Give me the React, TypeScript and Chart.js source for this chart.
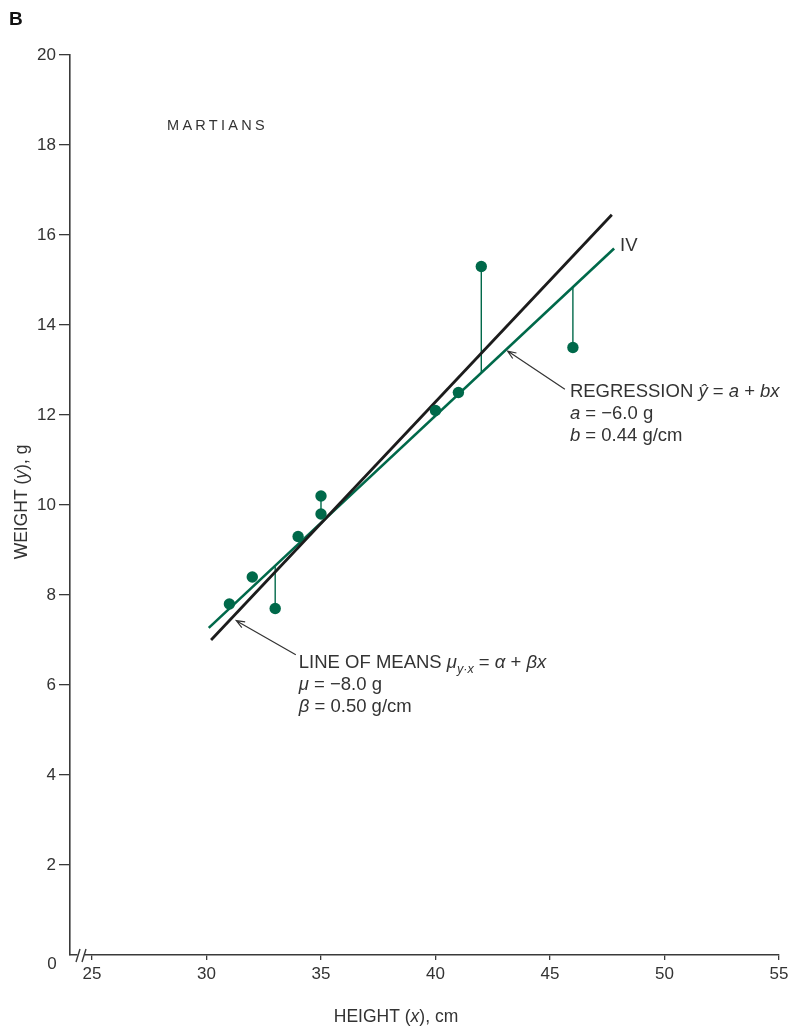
import React, { useEffect, useRef } from "react";
import { Chart, registerables } from "chart.js";

Chart.register(...registerables);

// ---- data ----
const heights = [31, 32, 33, 34, 35, 35, 40, 41, 42, 46];
const weights = [7.8, 8.4, 7.7, 9.3, 10.2, 9.8, 12.1, 12.5, 15.3, 13.5];

// line of means (black)
const meansLineX = [30.2, 47.7];
const meansLineY = [7.0, 16.45];

// regression line (green)
const regressionLineX = [30.1, 47.8];
const regressionLineY = [7.27, 15.7];

// residual segments
const residualX = [33, 35, 42, 46];
const residualFrom = [7.7, 10.2, 15.3, 13.5];
const residualTo = [8.62, 9.8, 12.95, 14.85];

const xTickValues = [25, 30, 35, 40, 45, 50, 55];
const yTickValues = [2, 4, 6, 8, 10, 12, 14, 16, 18, 20];

const GREEN = "#00694a";
const BLACK = "#1c1c1c";
const TEXT = "#333333";
const AXIS = "#3a3a3a";
const FONT = '"Liberation Sans", Arial, sans-serif';

type Seg = { t: string; i?: boolean; sub?: boolean };

function richWidth(ctx: CanvasRenderingContext2D, segs: Seg[], size: number) {
  let w = 0;
  for (const s of segs) {
    const fs = s.sub ? size * 0.68 : size;
    ctx.font = `${s.i ? "italic " : ""}${fs}px ${FONT}`;
    w += ctx.measureText(s.t).width;
  }
  return w;
}

function drawRich(
  ctx: CanvasRenderingContext2D,
  segs: Seg[],
  x: number,
  y: number,
  size: number
) {
  let cx = x;
  for (const s of segs) {
    const fs = s.sub ? size * 0.68 : size;
    ctx.font = `${s.i ? "italic " : ""}${fs}px ${FONT}`;
    ctx.fillText(s.t, cx, s.sub ? y + size * 0.28 : y);
    cx += ctx.measureText(s.t).width;
  }
  return cx;
}

function drawArrow(
  ctx: CanvasRenderingContext2D,
  x1: number,
  y1: number,
  x2: number,
  y2: number
) {
  ctx.save();
  ctx.strokeStyle = TEXT;
  ctx.lineWidth = 1.2;
  ctx.beginPath();
  ctx.moveTo(x1, y1);
  ctx.lineTo(x2, y2);
  const ang = Math.atan2(y1 - y2, x1 - x2);
  const len = 9;
  const spread = 0.38;
  ctx.moveTo(x2 + len * Math.cos(ang + spread), y2 + len * Math.sin(ang + spread));
  ctx.lineTo(x2, y2);
  ctx.lineTo(x2 + len * Math.cos(ang - spread), y2 + len * Math.sin(ang - spread));
  ctx.stroke();
  ctx.restore();
}

const decorPlugin = {
  id: "decor",
  afterDraw(chart: any) {
    const ctx: CanvasRenderingContext2D = chart.ctx;
    const xs = chart.scales.x;
    const ys = chart.scales.y;
    const ca = chart.chartArea;
    ctx.save();
    ctx.fillStyle = TEXT;
    ctx.textBaseline = "alphabetic";
    ctx.textAlign = "left";

    // panel letter
    ctx.fillStyle = "#111";
    ctx.font = `bold 19px ${FONT}`;
    ctx.fillText("B", 9, 25);
    ctx.fillStyle = TEXT;

    // MARTIANS
    ctx.font = `14.5px ${FONT}`;
    (ctx as any).letterSpacing = "3.3px";
    ctx.fillText("MARTIANS", ca.left + 97, ca.top + 75);
    (ctx as any).letterSpacing = "0px";

    // zero label
    ctx.font = `17px ${FONT}`;
    ctx.textAlign = "center";
    ctx.textBaseline = "middle";
    ctx.fillText("0", ca.left - 18, ca.bottom + 9);
    ctx.textAlign = "left";
    ctx.textBaseline = "alphabetic";

    // axis break
    ctx.fillStyle = "#ffffff";
    ctx.fillRect(ca.left + 7.5, ca.bottom - 2, 7, 4);
    ctx.strokeStyle = AXIS;
    ctx.lineWidth = 1.4;
    ctx.beginPath();
    ctx.moveTo(ca.left + 6, ca.bottom + 7);
    ctx.lineTo(ca.left + 10, ca.bottom - 6);
    ctx.moveTo(ca.left + 12, ca.bottom + 7);
    ctx.lineTo(ca.left + 16, ca.bottom - 6);
    ctx.stroke();
    ctx.fillStyle = TEXT;

    // axis titles
    const tsize = 17.5;
    const xTitle: Seg[] = [{ t: "HEIGHT (" }, { t: "x", i: true }, { t: "), cm" }];
    const xw = richWidth(ctx, xTitle, tsize);
    drawRich(ctx, xTitle, 396 - xw / 2, ca.bottom + 67, tsize);

    const yTitle: Seg[] = [{ t: "WEIGHT (" }, { t: "y", i: true }, { t: "), g" }];
    const yw = richWidth(ctx, yTitle, tsize);
    ctx.save();
    ctx.translate(27, 502);
    ctx.rotate(-Math.PI / 2);
    drawRich(ctx, yTitle, -yw / 2, 0, tsize);
    ctx.restore();

    // annotations
    const asize = 18.5;
    // line of means
    const m1x = xs.getPixelForValue(33.9);
    const m1y = ys.getPixelForValue(6.67);
    const m2x = xs.getPixelForValue(31.3);
    const m2y = ys.getPixelForValue(7.43);
    drawArrow(ctx, m1x, m1y, m2x, m2y);
    const lx = m1x + 3;
    const ly = m1y + 13;
    drawRich(
      ctx,
      [
        { t: "LINE OF MEANS " },
        { t: "\u03bc", i: true },
        { t: "y\u00b7x", i: true, sub: true },
        { t: " = " },
        { t: "\u03b1", i: true },
        { t: " + " },
        { t: "\u03b2x", i: true },
      ],
      lx,
      ly,
      asize
    );
    drawRich(ctx, [{ t: "\u03bc", i: true }, { t: " = \u22128.0 g" }], lx, ly + 22, asize);
    drawRich(ctx, [{ t: "\u03b2", i: true }, { t: " = 0.50 g/cm" }], lx, ly + 44, asize);

    // regression
    const r1x = xs.getPixelForValue(45.65);
    const r1y = ys.getPixelForValue(12.57);
    const r2x = xs.getPixelForValue(43.15);
    const r2y = ys.getPixelForValue(13.42);
    drawArrow(ctx, r1x, r1y, r2x, r2y);
    const rx = r1x + 5;
    const ry = r1y + 8;
    drawRich(
      ctx,
      [
        { t: "REGRESSION " },
        { t: "\u0177", i: true },
        { t: " = " },
        { t: "a", i: true },
        { t: " + " },
        { t: "bx", i: true },
      ],
      rx,
      ry,
      asize
    );
    drawRich(ctx, [{ t: "a", i: true }, { t: " = \u22126.0 g" }], rx, ry + 22, asize);
    drawRich(ctx, [{ t: "b", i: true }, { t: " = 0.44 g/cm" }], rx, ry + 44, asize);

    // IV label
    ctx.font = `${asize}px ${FONT}`;
    ctx.textBaseline = "middle";
    const ivx = xs.getPixelForValue(regressionLineX[1]);
    const ivy = ys.getPixelForValue(regressionLineY[1]);
    ctx.fillText("IV", ivx + 6, ivy - 3);

    ctx.restore();
  },
};

export default function App() {
  const canvasRef = useRef<HTMLCanvasElement | null>(null);

  useEffect(() => {
    const canvas = canvasRef.current;
    if (!canvas) return;

    const residualSets = residualX.map((x, i) => ({
      label: `residual${i}`,
      data: [
        { x, y: residualFrom[i] },
        { x, y: residualTo[i] },
      ],
      showLine: true,
      borderColor: GREEN,
      borderWidth: 1.4,
      pointRadius: 0,
      fill: false,
    }));

    const chart = new Chart(canvas, {
      type: "scatter",
      data: {
        datasets: [
          {
            label: "Martians",
            data: heights.map((h, i) => ({ x: h, y: weights[i] })),
            backgroundColor: GREEN,
            borderColor: GREEN,
            pointRadius: 5.7,
            pointBorderWidth: 0,
          },
          {
            label: "Line of means",
            data: meansLineX.map((x, i) => ({ x, y: meansLineY[i] })),
            showLine: true,
            borderColor: BLACK,
            borderWidth: 2.8,
            pointRadius: 0,
            fill: false,
          },
          {
            label: "Regression",
            data: regressionLineX.map((x, i) => ({ x, y: regressionLineY[i] })),
            showLine: true,
            borderColor: GREEN,
            borderWidth: 2.6,
            pointRadius: 0,
            fill: false,
          },
          ...residualSets,
        ] as any,
      },
      options: {
        responsive: false,
        animation: false,
        devicePixelRatio: 1,
        layout: { padding: { left: 0, top: 55, right: 11, bottom: 0 } },
        plugins: {
          legend: { display: false },
          tooltip: { enabled: false },
          title: { display: false },
        },
        scales: {
          x: {
            type: "linear",
            min: 24.04,
            max: 55,
            afterBuildTicks: (scale: any) => {
              scale.ticks = xTickValues.map((v) => ({ value: v }));
            },
            afterFit: (scale: any) => {
              scale.height = 71;
              scale.paddingRight = 0;
              scale.paddingLeft = 0;
            },
            grid: {
              display: true,
              drawOnChartArea: false,
              drawTicks: true,
              tickLength: 5,
              color: AXIS,
              lineWidth: 1.3,
            },
            border: { display: true, color: AXIS, width: 1.6 },
            ticks: {
              color: TEXT,
              font: { family: FONT, size: 17 },
              padding: 4,
              maxRotation: 0,
              autoSkip: false,
            },
          },
          y: {
            type: "linear",
            min: 0,
            max: 20,
            afterBuildTicks: (scale: any) => {
              scale.ticks = yTickValues.map((v) => ({ value: v }));
            },
            afterFit: (scale: any) => {
              scale.width = 70;
              scale.paddingTop = 0;
              scale.paddingBottom = 0;
            },
            grid: {
              display: true,
              drawOnChartArea: false,
              drawTicks: true,
              tickLength: 11,
              color: AXIS,
              lineWidth: 1.3,
            },
            border: { display: true, color: AXIS, width: 1.6 },
            ticks: {
              color: TEXT,
              font: { family: FONT, size: 17 },
              padding: 3,
              autoSkip: false,
            },
          },
        },
      } as any,
      plugins: [decorPlugin],
    });

    return () => {
      chart.destroy();
    };
  }, []);

  return (
    <div style={{ position: "absolute", left: 0, top: 0, width: 790, height: 1026, background: "#fff" }}>
      <canvas ref={canvasRef} width={790} height={1026} style={{ display: "block" }} />
    </div>
  );
}
